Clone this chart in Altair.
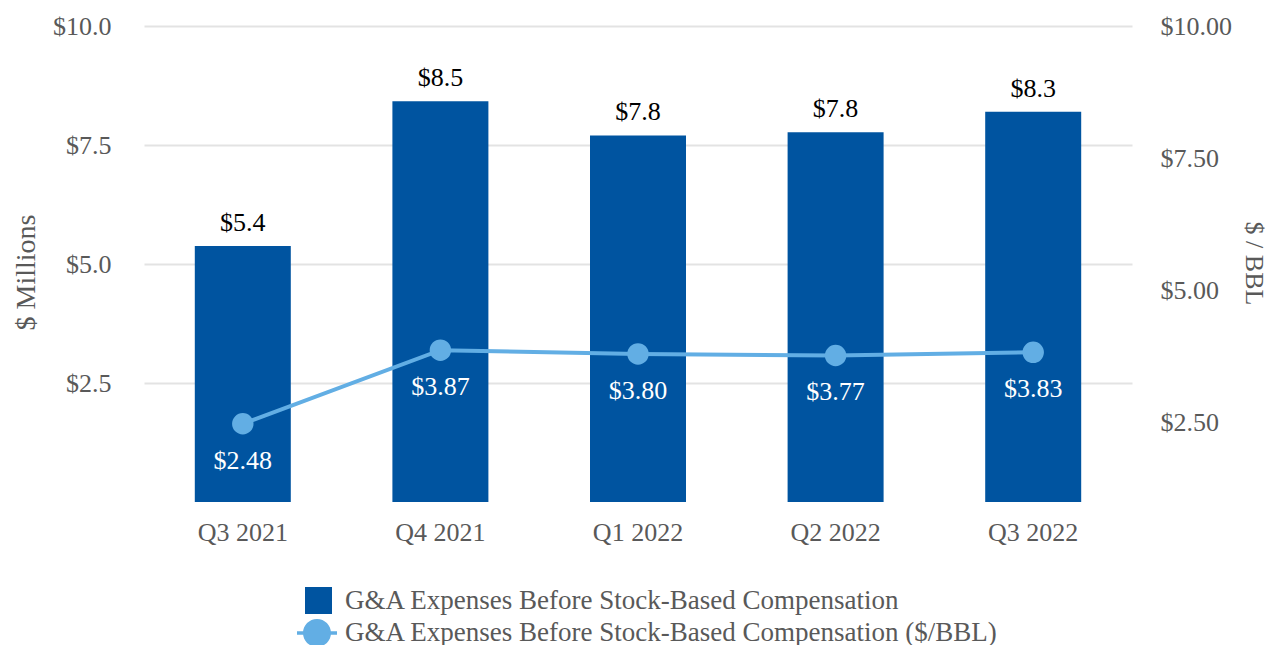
import altair as alt
import pandas as pd

quarters = ["Q3 2021", "Q4 2021", "Q1 2022", "Q2 2022", "Q3 2022"]
ga_millions = [5.38, 8.42, 7.70, 7.77, 8.20]
ga_labels = ["$5.4", "$8.5", "$7.8", "$7.8", "$8.3"]
ga_per_bbl = [2.48, 3.87, 3.80, 3.77, 3.83]
bbl_labels = ["$2.48", "$3.87", "$3.80", "$3.77", "$3.83"]

bar_name = "G&A Expenses Before Stock-Based Compensation"
line_name = "G&A Expenses Before Stock-Based Compensation ($/BBL)"

df = pd.DataFrame({
    "q": quarters,
    "m": ga_millions,
    "ml": ga_labels,
    "b": ga_per_bbl,
    "bl": bbl_labels,
    "s1": bar_name,
    "s2": line_name,
})

FONT = "Liberation Serif"
GRAY = "#595959"
BAR = "#0054a0"
LINE = "#62aee4"
FS = 26
LFS = 27

x = alt.X("q:N", sort=quarters, title=None,
          scale=alt.Scale(paddingInner=0.51, paddingOuter=0.255),
          axis=alt.Axis(labelAngle=0, labelFontSize=FS, labelColor=GRAY, labelFont=FONT,
                        labelPadding=17, domain=False, ticks=False))

y_left = alt.Y("m:Q", scale=alt.Scale(domain=[0, 10], nice=False),
               axis=alt.Axis(values=[2.5, 5, 7.5, 10], format="$.1f", title="$ Millions",
                             orient="left", labelFontSize=FS, labelColor=GRAY, labelFont=FONT,
                             labelPadding=33, domain=False, ticks=False,
                             grid=True, gridColor="#e3e3e3", gridWidth=2,
                             titleFont=FONT, titleFontSize=28, titleColor=GRAY,
                             titleFontWeight="normal", titleX=-118, titleY=246,
                             titleBaseline="middle", titleAlign="center"))

y_right = alt.Y("b:Q", scale=alt.Scale(domain=[1, 10], nice=False, zero=False),
                axis=alt.Axis(values=[2.5, 5, 7.5, 10], format="$.2f", title="$ / BBL",
                              orient="right", labelFontSize=FS, labelColor=GRAY, labelFont=FONT,
                              labelPadding=28, domain=False, ticks=False, grid=False,
                              titleFont=FONT, titleFontSize=26, titleColor=GRAY,
                              titleFontWeight="normal", titleX=121, titleY=237,
                              titleBaseline="middle", titleAlign="center"))

base = alt.Chart(df)

bars = base.mark_bar(size=96).encode(
    color=alt.Color("s1:N", scale=alt.Scale(domain=[bar_name], range=[BAR]),
                    legend=alt.Legend(title=None, orient="none", legendX=161, legendY=561,
                                      symbolType="square", symbolSize=729, symbolStrokeWidth=0,
                                      labelFont=FONT, labelFontSize=LFS, labelColor=GRAY,
                                      labelOffset=13, padding=0, labelLimit=900)),
)
bar_text = base.mark_text(baseline="bottom", dy=-10, font=FONT, fontSize=FS,
                          color="black").encode(text="ml:N")

legend_path = ("M-1,-0.09 L1,-0.09 L1,0.09 L-1,0.09 Z "
               "M0.7,0 A0.7,0.7 0 1,1 -0.7,0 A0.7,0.7 0 1,1 0.7,0 Z")

line = base.mark_line(strokeWidth=4).encode(
    stroke=alt.Stroke("s2:N", scale=alt.Scale(domain=[line_name], range=[LINE]),
                      legend=alt.Legend(title=None, orient="none", legendX=153, legendY=587,
                                        symbolType=legend_path, symbolSize=1600,
                                        symbolFillColor=LINE, symbolStrokeWidth=0,
                                        labelFont=FONT, labelFontSize=LFS, labelColor=GRAY,
                                        labelOffset=8, padding=0, labelLimit=900)),
)
points = base.mark_circle(size=460, opacity=1, color=LINE)
line_text = base.mark_text(baseline="middle", dy=37, font=FONT, fontSize=FS,
                           color="white").encode(text="bl:N")

left = alt.layer(bars, bar_text).encode(x=x, y=y_left)
right = alt.layer(line, points, line_text).encode(x=x, y=y_right)

chart = alt.layer(left, right).resolve_scale(y="independent").properties(
    width=988, height=476,
    background="white",
    autosize=alt.AutoSizeParams(type="none"),
    padding={"left": 136, "top": 18, "right": 138, "bottom": 170},
).configure_view(stroke=None)

chart.save("out.html", embed_options={"renderer": "svg", "actions": False})
